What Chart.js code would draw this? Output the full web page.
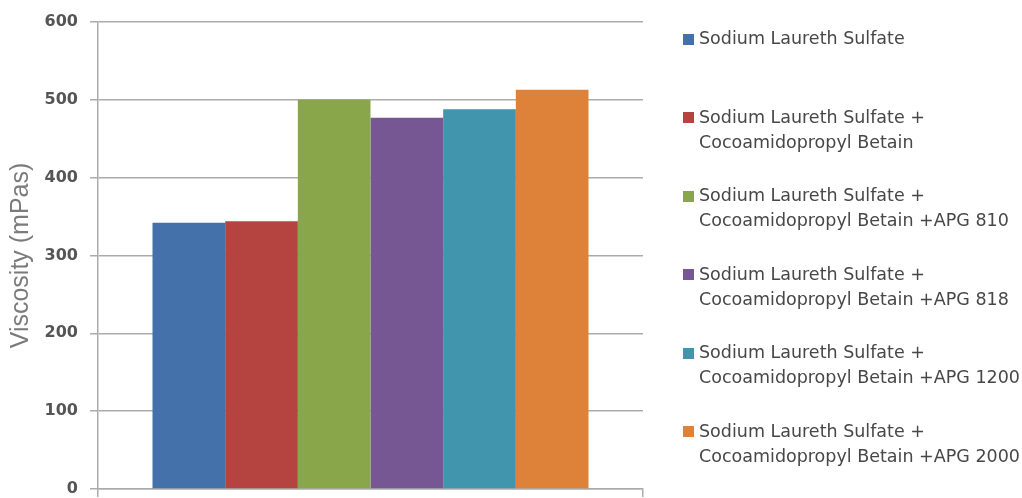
<!DOCTYPE html>
<html>
<head>
<meta charset="utf-8">
<script src="https://cdn.jsdelivr.net/npm/chart.js@4/dist/chart.umd.min.js"></script>
<style>
  html, body { margin: 0; padding: 0; background: #ffffff; }
  #wrap { width: 1022px; height: 498px; position: relative; }
</style>
</head>
<body>
<div id="wrap"><canvas id="chart"></canvas></div>
<script>
// One group of bars, one bar per formulation
const categories = [''];

// Legend text, one entry per formulation (split into display lines)
const seriesLabels = [
  ['Sodium Laureth Sulfate'],
  ['Sodium Laureth Sulfate +', 'Cocoamidopropyl Betain'],
  ['Sodium Laureth Sulfate +', 'Cocoamidopropyl Betain +APG 810'],
  ['Sodium Laureth Sulfate +', 'Cocoamidopropyl Betain +APG 818'],
  ['Sodium Laureth Sulfate +', 'Cocoamidopropyl Betain +APG 1200'],
  ['Sodium Laureth Sulfate +', 'Cocoamidopropyl Betain +APG 2000']
];

// Viscosity of each formulation, mPas
const viscosity = [342, 344, 500, 477, 488, 513];

const seriesColors = ['#4471aa', '#b5433f', '#8aa64b', '#765793', '#4195ad', '#df8239'];

// Value axis
const yTicks = [0, 100, 200, 300, 400, 500, 600];
const yTitle = 'Viscosity (mPas)';

const gridColor = '#ababab';

// Legend drawn beside the plot, each entry aligned to one band of the grid
const sideLegend = {
  id: 'sideLegend',
  afterDraw(chart) {
    const ctx = chart.ctx;
    const top = chart.chartArea.top;
    ctx.save();
    ctx.font = '17.5px "DejaVu Sans"';
    ctx.textBaseline = 'middle';
    ctx.textAlign = 'left';
    chart.data.datasets.forEach((ds, i) => {
      const y = top + 17.5 + i * 78.5;
      ctx.fillStyle = ds.backgroundColor;
      ctx.fillRect(683, Math.round(y - 6), 11, 11);
      ctx.fillStyle = '#474747';
      seriesLabels[i].forEach((line, j) => {
        ctx.fillText(line, 699, y + j * 25);
      });
    });
    ctx.restore();
  }
};

const datasets = viscosity.map((v, i) => ({
  label: seriesLabels[i].join(' '),
  data: [v],
  backgroundColor: seriesColors[i],
  borderWidth: 0,
  categoryPercentage: 0.8,
  barPercentage: 1.0
}));

new Chart(document.getElementById('chart'), {
  type: 'bar',
  data: { labels: categories, datasets },
  plugins: [sideLegend],
  options: {
    responsive: true,
    maintainAspectRatio: false,
    animation: false,
    devicePixelRatio: 1,
    layout: { padding: { top: 22, right: 379, bottom: 0, left: 0 } },
    plugins: {
      legend: { display: false },
      tooltip: { enabled: false },
      title: { display: false }
    },
    scales: {
      x: {
        type: 'category',
        offset: true,
        afterFit: (scale) => {
          scale.height = 9;
          scale.paddingLeft = 0;
          scale.paddingRight = 0;
        },
        grid: {
          offset: true,
          drawOnChartArea: false,
          drawTicks: true,
          tickLength: 8,
          color: gridColor,
          lineWidth: 1.5
        },
        border: { display: true, color: gridColor, width: 1.5 },
        ticks: { display: false }
      },
      y: {
        min: 0,
        max: 600,
        afterBuildTicks: (scale) => {
          scale.ticks = yTicks.map(v => ({ value: v }));
        },
        afterFit: (scale) => {
          scale.width = 98;
          scale.paddingTop = 0;
          scale.paddingBottom = 0;
        },
        grid: {
          color: gridColor,
          lineWidth: 1.5,
          drawTicks: true,
          tickLength: 8
        },
        border: { display: true, color: gridColor, width: 1.5 },
        ticks: {
          padding: 12,
          color: '#555555',
          font: { family: 'DejaVu Sans', size: 16, weight: 'bold' }
        },
        title: {
          display: true,
          text: yTitle,
          color: '#7b7b7b',
          font: { family: 'Liberation Sans', size: 25, weight: 'normal' },
          padding: { top: 6, bottom: 0 }
        }
      }
    }
  }
});
</script>
</body>
</html>
